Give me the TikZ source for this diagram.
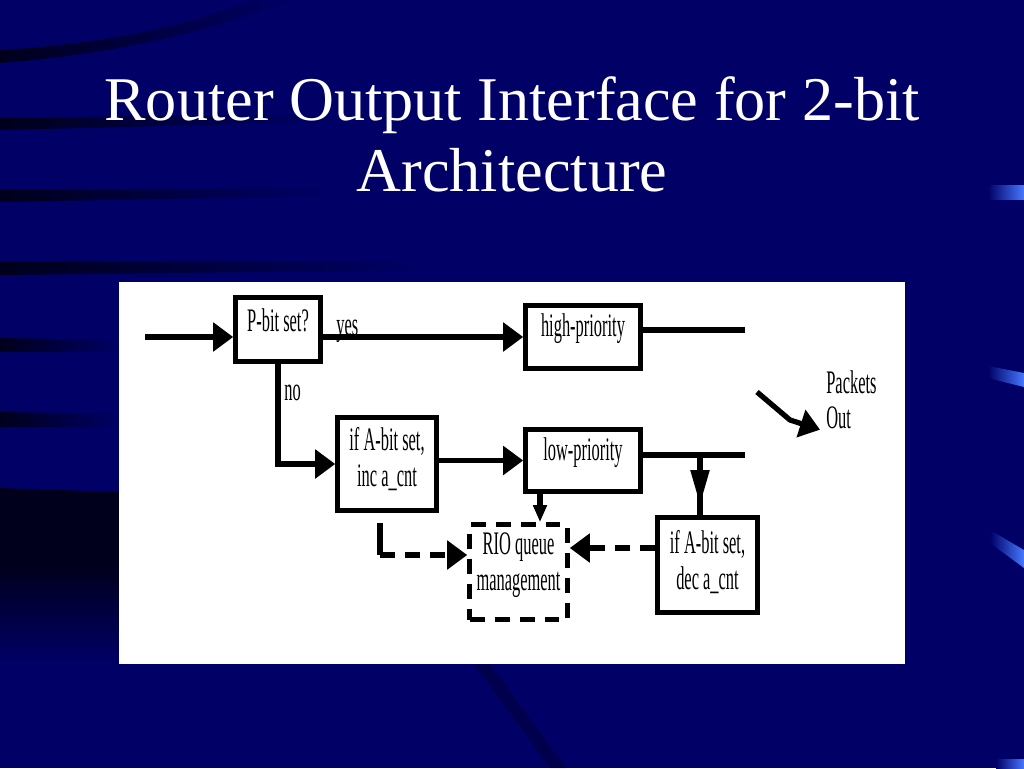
\documentclass[tikz,border=0pt]{standalone}
\usepackage{fontspec}
\setmainfont{Liberation Serif}
\usepackage{graphicx}
\usetikzlibrary{arrows.meta, positioning}
\definecolor{slidebg}{RGB}{0,0,102}
\definecolor{streak}{RGB}{0,0,28}
\definecolor{glint}{RGB}{70,120,255}
\newcommand\slim[1]{\scalebox{0.5}[1]{#1}}
\tikzset{
  box/.style={rectangle,draw,line width=2.6pt,inner sep=0pt},
  riobox/.style={box,dash pattern=on 0.3cm off 0.2cm},
  boxtext/.style={anchor=north,align=center,inner sep=0pt,font=\fontsize{18.7}{20.4}\selectfont},
  tag/.style={inner sep=0pt,align=left,font=\fontsize{18.7}{20.4}\selectfont},
  slidetitle/.style={text=white,align=center,inner sep=0pt,font=\fontsize{35.4}{40.8}\selectfont},
  wire/.style={line width=3pt},
  hline/.style={wire,-{Triangle[length=0.4cm,width=0.56cm]}},
  dline/.style={hline,dash pattern=on 0.3cm off 0.2cm},
  vline/.style={wire,-{Triangle[length=0.7cm,width=0.36cm]}},
  sline/.style={wire,-{Triangle[length=0.34cm,width=0.26cm]}}
}

\begin{document}
\begin{tikzpicture}[x=0.02cm,y=-0.02cm]
\useasboundingbox (0,0) rectangle (1024,768);
% slide background
\fill[slidebg] (0,0) rectangle (1024,768);
\shade[left color=streak,right color=slidebg] (0,50) .. controls (110,44) and (200,22) .. (250,0) -- (295,0) .. controls (220,28) and (120,54) .. (0,63) -- cycle;
\shade[left color=streak,right color=slidebg] (0,118) -- (330,114) -- (330,122) -- (0,130) -- cycle;
\shade[left color=streak,right color=slidebg] (0,190) -- (330,188) -- (330,196) -- (0,202) -- cycle;
\shade[left color=streak,right color=slidebg] (0,261) -- (430,262) -- (430,270) -- (0,275) -- cycle;
\shade[left color=streak,right color=slidebg] (0,338) -- (119,340) -- (119,352) -- (0,352) -- cycle;
\shade[left color=streak,right color=slidebg] (0,412) -- (119,414) -- (119,427) -- (0,427) -- cycle;
\fill[streak] (0,488) -- (119,492) -- (119,565) -- (0,565) -- cycle;
\shade[top color=streak,bottom color=slidebg] (0,565) rectangle (119,662);
\fill[streak,opacity=0.35] (474,664) -- (490,664) -- (566,768) -- (550,768) -- cycle;
% blue glints on the right edge
\shade[left color=slidebg,right color=glint] (988,185) rectangle (1024,199);
\shade[left color=slidebg,right color=glint] (988,366) -- (1024,373) -- (1024,387) -- (988,378) -- cycle;
\shade[left color=slidebg,right color=glint] (990,530) -- (1024,550) -- (1024,568) -- (990,543) -- cycle;
\shade[left color=slidebg,right color=glint] (996,759) rectangle (1024,768);

\node[slidetitle, anchor=north] (heading) at (512,76) {Router Output Interface for 2-bit\\Architecture};

% white panel
\fill[white] (119,282) rectangle (905,664);

% boxes
\node[box, minimum width=1.70cm, minimum height=1.28cm,
  label={[boxtext,yshift=-0.26cm]north:{\slim{P-bit set?}}}] (pbit) at (278,329.5) {};
\node[box, minimum width=2.30cm, minimum height=1.26cm,
  label={[boxtext,yshift=-0.2cm]north:{\slim{high-priority}}}] (hp) at (583,337) {};
\node[box, minimum width=1.98cm, minimum height=1.86cm,
  label={[boxtext,yshift=-0.24cm]north:{\slim{if A-bit set,}\\\slim{inc a\_cnt}}}] (inc) at (387,464) {};
\node[box, minimum width=2.30cm, minimum height=1.24cm,
  label={[boxtext,yshift=-0.2cm]north:{\slim{low-priority}}}] (lp) at (583,460.5) {};
\node[box, minimum width=2.0cm, minimum height=1.9cm,
  label={[boxtext,yshift=-0.3cm]north:{\slim{if A-bit set,}\\\slim{dec a\_cnt}}}] (dec) at (707.5,565) {};
\node[riobox, minimum width=1.96cm, minimum height=1.9cm,
  label={[boxtext,yshift=-0.2cm]north:{\slim{RIO queue}\\\slim{management}}}] (rio) at (518.5,572) {};

\node[tag, anchor=base west] (yes) at (336,335) {\slim{yes}};
\node[tag, anchor=base west] (no) at (284,400) {\slim{no}};
\node[tag, anchor=north west] (pkt) at (826,370) {\slim{Packets}\\\slim{Out}};

% connectors
\coordinate (src) at (145,337);
\coordinate (hpend) at (745,330);
\coordinate (lpend) at (745,455);
\coordinate (tap) at (700,455);
\coordinate (merge) at (757,392);
\coordinate (rioin) at ([yshift=0.34cm]rio.west);
\coordinate (rioback) at ([yshift=0.48cm]rio.east);

\draw[hline] (src) -- (src -| pbit.west);
\draw[hline] (pbit.east |- hp.west) -- (hp.west);
\draw[wire] (hp.east |- hpend) -- (hpend);
\draw[hline] (pbit.south) |- (inc.west);
\draw[hline] (inc.east |- lp.west) -- (lp.west);
\draw[wire] (lp.east |- lpend) -- (lpend);
\draw[wire] (tap) -- (tap |- dec.north);
\draw[vline] (tap) -- ++(0,50);
\draw[sline] ([xshift=-0.86cm]lp.south) -- ([xshift=-0.86cm]lp.south |- rio.north);
\draw[wire] ([xshift=-0.14cm,yshift=-0.2cm]inc.south) -- ([xshift=-0.14cm]inc.south |- rioin);
\draw[dline] ([xshift=-0.14cm]inc.south |- rioin) -- (rioin);
\draw[dline] (dec.west |- rioback) -- (rioback);
\draw[hline] (merge) -- ++(33,28) -- ([xshift=-0.12cm]pkt.south west);
\end{tikzpicture}
\end{document}
